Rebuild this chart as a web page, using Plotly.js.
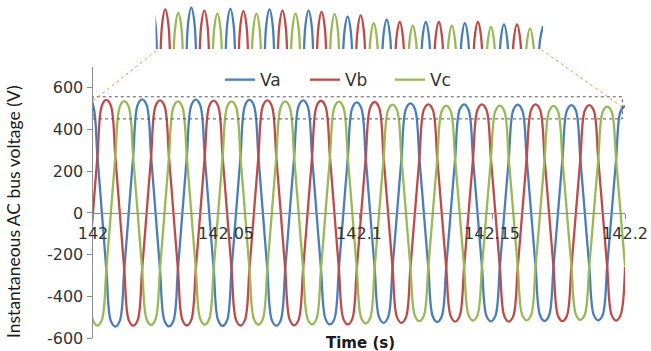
<!DOCTYPE html>
<html>
<head>
<meta charset="utf-8">
<script src="https://cdn.plot.ly/plotly-3.0.1.min.js"></script>
<style>
  html, body { margin: 0; padding: 0; background: #ffffff; }
  #chart { width: 651px; height: 351px; }
</style>
</head>
<body>
<div id="chart"></div>
<script>
// ---- Data ----
// Samples are evenly spaced in time, starting at tStart with step tStep (s)
const tStart = 141.9983;
const tStep = 0.001681;

const seriesNames = ["Va", "Vb", "Vc"];
const seriesColors = ["#4a7ebb", "#be4b48", "#98b954"];

const Va = [
  545, 518, 273, 0, -273, -518, -545, -518, -273, 0, 273, 518,
  545, 518, 273, 0, -272, -517, -544, -517, -272, 0, 272, 516,
  543, 516, 272, 0, -271, -515, -542, -515, -271, 0, 271, 515,
  542, 515, 271, 0, -271, -514, -541, -514, -271, 0, 270, 513,
  540, 513, 270, 0, -268, -508, -535, -508, -268, 0, 265, 504,
  530, 504, 265, 0, -264, -501, -527, -501, -264, 0, 263, 499,
  525, 499, 263, 0, -262, -497, -523, -497, -262, 0, 261, 495,
  521, 495, 261, 0, -260, -494, -520, -494, -260, 0, 260, 493,
  519, 493, 260, 0, -259, -492, -518, -492, -259, 0, 259, 491,
  517, 491, 259, 0, -258, -489, -515, -489, -258, 0, 257, 488,
  514
];

const Vb = [
  -271, 0, 271, 515, 542, 515, 271, 0, -271, -514, -541, -514,
  -271, 0, 270, 513, 540, 513, 270, 0, -270, -513, -540, -513,
  -270, 0, 270, 512, 539, 512, 270, 0, -270, -513, -540, -513,
  -270, 0, 270, 513, 540, 513, 270, 0, -270, -512, -539, -512,
  -270, 0, 269, 511, 538, 511, 269, 0, -268, -508, -535, -508,
  -268, 0, 266, 505, 532, 505, 266, 0, -264, -501, -527, -501,
  -264, 0, 261, 495, 521, 495, 261, 0, -261, -495, -521, -495,
  -261, 0, 261, 495, 521, 495, 261, 0, -261, -495, -521, -495,
  -261, 0, 261, 495, 521, 495, 261, 0, -260, -493, -519, -493,
  -260, 0, 259, 491, 517, 491, 259, 0, -258, -490, -516, -490,
  -258
];

const Vc = [
  -270, -513, -540, -513, -270, 0, 268, 509, 536, 509, 268, 0,
  -269, -510, -537, -510, -269, 0, 268, 508, 535, 508, 268, 0,
  -268, -509, -536, -509, -268, 0, 268, 508, 535, 508, 268, 0,
  -268, -509, -536, -509, -268, 0, 268, 508, 535, 508, 268, 0,
  -268, -508, -535, -508, -268, 0, 267, 507, 534, 507, 267, 0,
  -265, -504, -530, -504, -265, 0, 260, 493, 519, 493, 260, 0,
  -260, -493, -519, -493, -260, 0, 258, 489, 515, 489, 258, 0,
  -258, -490, -516, -490, -258, 0, 258, 489, 515, 489, 258, 0,
  -258, -489, -515, -489, -258, 0, 257, 487, 513, 487, 257, 0,
  -257, -487, -513, -487, -257, 0, 255, 485, 510, 485, 255, 0,
  -257
];

const xTickVals = [142, 142.05, 142.1, 142.15, 142.2];
const xTickText = ["142", "142.05", "142.1", "142.15", "142.2"];
const yTickVals = [-600, -400, -200, 0, 200, 400, 600];
const yTickText = ["-600", "-400", "-200", "0", "200", "400", "600"];

const xRange = [142, 142.2];
const yRange = [-600, 700];
const zoomBox = { x0: 142, x1: 142.199, y0: 451, y1: 557 };
const insetYRange = [476, 552];

// ---- Build traces ----
const allSeries = [Va, Vb, Vc];
const traces = [];
allSeries.forEach((vals, i) => {
  traces.push({
    type: "scatter", mode: "lines", name: seriesNames[i],
    x0: tStart, dx: tStep, y: vals,
    xaxis: "x", yaxis: "y",
    line: { color: seriesColors[i], width: 2.3, shape: "spline", smoothing: 1 },
    hoverinfo: "skip"
  });
});
allSeries.forEach((vals, i) => {
  traces.push({
    type: "scatter", mode: "lines", name: seriesNames[i] + " (zoom)",
    x0: tStart, dx: tStep, y: vals,
    xaxis: "x2", yaxis: "y2", showlegend: false,
    line: { color: seriesColors[i], width: 2.3, shape: "spline", smoothing: 1 },
    hoverinfo: "skip"
  });
});

const tickFont = { family: "DejaVu Sans, sans-serif", size: 16, color: "#333333" };
const axisGray = "#8c8c8c";

const layout = {
  width: 651, height: 351,
  margin: { l: 93, r: 26, t: 0, b: 13 },
  paper_bgcolor: "#ffffff", plot_bgcolor: "rgba(0,0,0,0)",
  showlegend: true,
  legend: {
    orientation: "h", x: 0.2387, y: 0.763, xanchor: "left", yanchor: "middle",
    font: { family: "DejaVu Sans, sans-serif", size: 17, color: "#333333" },
    bgcolor: "rgba(255,255,255,0)", entrywidth: 40, entrywidthmode: "pixels",
    itemwidth: 30, tracegroupgap: 0
  },
  xaxis: {
    domain: [0, 1], range: xRange, anchor: "free", position: 0.3701,
    showgrid: false, zeroline: false,
    showline: true, linecolor: axisGray, linewidth: 1.5,
    ticks: "outside", ticklen: 5, tickcolor: axisGray, tickwidth: 1,
    tickmode: "array", tickvals: xTickVals, ticktext: xTickText,
    tickfont: tickFont, fixedrange: true
  },
  yaxis: {
    domain: [0, 0.8018], range: yRange, anchor: "x",
    showgrid: false, zeroline: false,
    showline: true, linecolor: axisGray, linewidth: 1.5,
    ticks: "outside", ticklen: 5, tickcolor: axisGray, tickwidth: 1,
    tickmode: "array", tickvals: yTickVals, ticktext: yTickText,
    tickfont: tickFont, fixedrange: true
  },
  xaxis2: {
    domain: [0.1175, 0.8459], range: xRange, anchor: "y2",
    visible: false, fixedrange: true
  },
  yaxis2: {
    domain: [0.855, 0.990], range: insetYRange, anchor: "x2",
    visible: false, fixedrange: true
  },
  shapes: [
    {
      type: "rect", xref: "x", yref: "y",
      x0: zoomBox.x0, x1: zoomBox.x1, y0: zoomBox.y0, y1: zoomBox.y1,
      line: { color: "#555555", width: 1, dash: "dot" }
    },
    {
      type: "line", xref: "paper", yref: "paper",
      x0: 0, y0: (338 - 101) / 338, x1: (157 - 93) / 532, y1: (338 - 50) / 338,
      line: { color: "#f39b4b", width: 1, dash: "dot" }
    },
    {
      type: "line", xref: "paper", yref: "paper",
      x0: (622 - 93) / 532, y0: (338 - 107) / 338, x1: (542 - 93) / 532, y1: (338 - 50) / 338,
      line: { color: "#f39b4b", width: 1, dash: "dot" }
    }
  ],
  annotations: [
    {
      text: "Instantaneous AC bus voltage (V)", textangle: -90,
      xref: "paper", yref: "paper", x: (13 - 93) / 532, y: (338 - 212) / 338,
      xanchor: "center", yanchor: "middle", showarrow: false,
      font: { family: "Lato, sans-serif", size: 17.5, color: "#1a1a1a" }
    },
    {
      text: "<b>Time (s)</b>",
      xref: "paper", yref: "paper", x: (360 - 93) / 532, y: (338 - 343) / 338,
      xanchor: "center", yanchor: "middle", showarrow: false,
      font: { family: "DejaVu Sans, sans-serif", size: 15, color: "#1a1a1a" }
    }
  ]
};

Plotly.newPlot("chart", traces, layout, { staticPlot: true, displayModeBar: false });
</script>
</body>
</html>
